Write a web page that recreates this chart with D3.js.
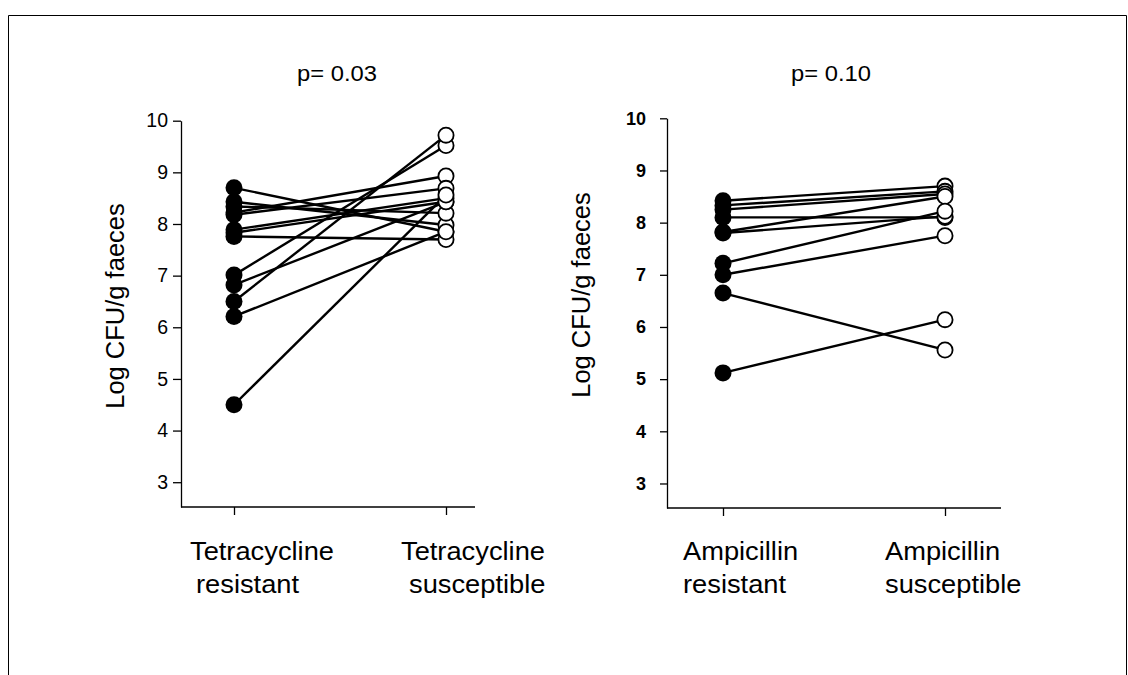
<!DOCTYPE html>
<html>
<head>
<meta charset="utf-8">
<script src="https://cdn.jsdelivr.net/npm/d3@7"></script>
<style>
  html, body { margin: 0; padding: 0; background: #fff; }
  svg { display: block; font-family: "Liberation Sans", Arial, Helvetica, sans-serif; }
</style>
</head>
<body>
<svg id="chart" width="1128" height="675"></svg>
<script>
// ---------------- data ----------------
const yTicks = [3, 4, 5, 6, 7, 8, 9, 10];
const yLabel = "Log CFU/g faeces";

const tetTitle = "p= 0.03";
const tetCategories = ["resistant", "susceptible"];
const tetLabels = [["Tetracycline", "resistant"], ["Tetracycline", "susceptible"]];
const tetResistant   = [8.70, 8.43, 8.34, 8.22, 8.18, 7.89, 7.83, 7.76, 7.01, 6.82, 6.50, 6.21, 4.50];
const tetSusceptible = [7.85, 7.98, 8.21, 8.93, 8.69, 8.50, 8.43, 7.70, 9.52, 8.43, 9.72, 7.85, 8.56];

const ampTitle = "p= 0.10";
const ampCategories = ["resistant", "susceptible"];
const ampLabels = [["Ampicillin", "resistant"], ["Ampicillin", "susceptible"]];
const ampResistant   = [8.42, 8.33, 8.25, 8.10, 7.82, 7.80, 7.22, 7.00, 6.65, 5.12];
const ampSusceptible = [8.70, 8.60, 8.55, 8.10, 8.50, 8.12, 8.22, 7.75, 5.56, 6.14];

// ---------------- drawing ----------------
const svg = d3.select("#chart");

// outer frame (bottom edge is cut off)
svg.append("path")
  .attr("d", "M8.5,675 V15.5 H1126.5 V675")
  .attr("fill", "none").attr("stroke", "#000").attr("stroke-width", 1);

function panel(cfg) {
  const g = svg.append("g");
  const y = d3.scaleLinear().domain([cfg.yMin, 10]).range([cfg.yBottom, cfg.yTop]);
  const x = d3.scalePoint().domain(cfg.categories).range(cfg.xCats).padding(0);

  // y axis
  const ya = g.append("g")
    .attr("transform", `translate(${cfg.xAxis},0)`)
    .call(d3.axisLeft(y).tickValues(yTicks).tickSize(cfg.tickLen).tickSizeOuter(0).tickPadding(cfg.tickPad));
  ya.selectAll("path, line").attr("stroke", "#000").attr("stroke-width", 1.3);
  ya.selectAll("text")
    .attr("fill", "#000")
    .style("font-family", "'Liberation Sans', Arial, sans-serif")
    .style("font-size", cfg.tickFont + "px")
    .style("font-weight", cfg.tickWeight);

  // x axis line + ticks
  g.append("line")
    .attr("x1", cfg.xAxis).attr("x2", cfg.xEnd)
    .attr("y1", cfg.yBottom).attr("y2", cfg.yBottom)
    .attr("stroke", "#000").attr("stroke-width", 1.3);
  const xa = g.append("g")
    .attr("transform", `translate(0,${cfg.yBottom})`)
    .call(d3.axisBottom(x).tickSize(8).tickSizeOuter(0).tickFormat(""));
  xa.select(".domain").remove();
  xa.selectAll("line").attr("stroke", "#000").attr("stroke-width", 1.3);

  // title
  g.append("text")
    .attr("transform", `translate(${cfg.titleX},81) scale(1.08,1)`)
    .attr("text-anchor", "middle")
    .style("font-size", "22px")
    .text(cfg.title);

  // y label
  g.append("text")
    .attr("transform", `translate(${cfg.yLabelX},${cfg.yLabelY}) rotate(-90)`)
    .attr("text-anchor", "middle")
    .style("font-size", "25.5px")
    .text(yLabel);

  // category labels
  cfg.labels.forEach((lines, i) => {
    lines.forEach((t, j) => {
      g.append("text")
        .attr("transform", `translate(${cfg.labelX[i][j]},${[560, 593][j]}) scale(1.07,1)`)
        .attr("text-anchor", "start")
        .style("font-size", "25.5px")
        .text(t);
    });
  });

  const pairs = cfg.res.map((r, i) => ({ r, s: cfg.sus[i] }));

  // connecting lines
  g.selectAll("line.pair").data(pairs).enter().append("line")
    .attr("class", "pair")
    .attr("x1", x(cfg.categories[0])).attr("x2", x(cfg.categories[1]))
    .attr("y1", d => y(d.r)).attr("y2", d => y(d.s))
    .attr("stroke", "#000").attr("stroke-width", 2.4);

  // resistant (filled)
  g.selectAll("circle.res").data(pairs).enter().append("circle")
    .attr("class", "res")
    .attr("cx", x(cfg.categories[0])).attr("cy", d => y(d.r))
    .attr("r", 8.5).attr("fill", "#000");

  // susceptible (open)
  g.selectAll("circle.sus").data(pairs).enter().append("circle")
    .attr("class", "sus")
    .attr("cx", x(cfg.categories[1])).attr("cy", d => y(d.s))
    .attr("r", 7.6).attr("fill", "#fff").attr("stroke", "#000").attr("stroke-width", 1.8);
}

panel({
  categories: tetCategories, labels: tetLabels, res: tetResistant, sus: tetSusceptible, title: tetTitle,
  yMin: 2.52, yTop: 120.7, yBottom: 507, xAxis: 181, xEnd: 475, xCats: [234, 446],
  tickLen: 8, tickPad: 5, tickFont: 19.5, tickWeight: "normal",
  titleX: 337, yLabelX: 124, yLabelY: 306,
  labelX: [[190, 196], [401, 409]]
});

panel({
  categories: ampCategories, labels: ampLabels, res: ampResistant, sus: ampSusceptible, title: ampTitle,
  yMin: 2.53, yTop: 118.3, yBottom: 508, xAxis: 667, xEnd: 1001, xCats: [723, 945],
  tickLen: 7, tickPad: 14, tickFont: 18, tickWeight: "bold",
  titleX: 831, yLabelX: 590, yLabelY: 295,
  labelX: [[683, 683], [885, 885]]
});
</script>
</body>
</html>
